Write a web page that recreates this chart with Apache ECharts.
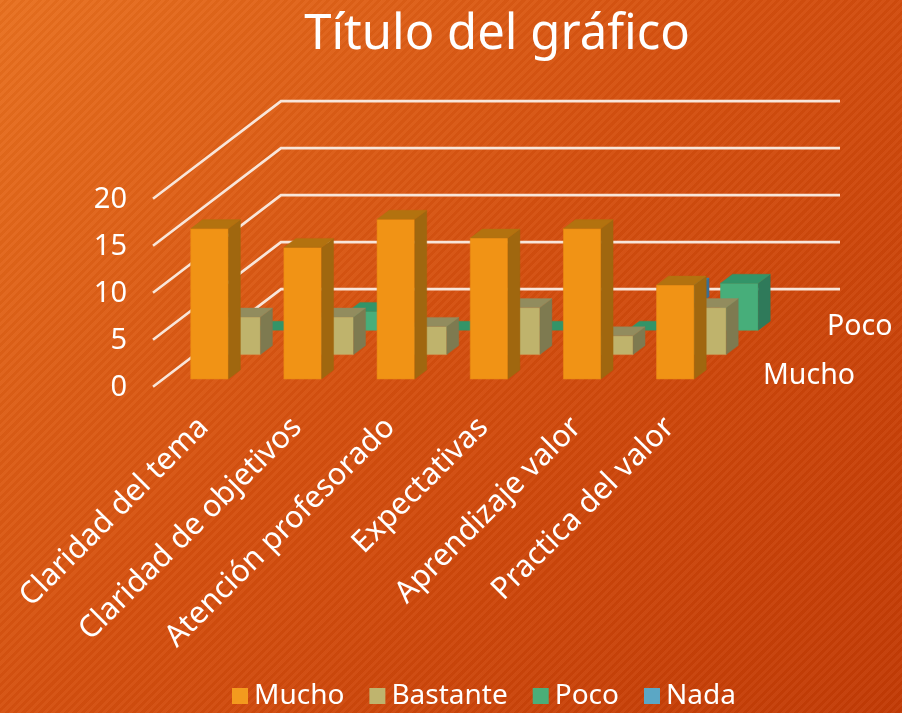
<!DOCTYPE html>
<html>
<head>
<meta charset="utf-8">
<title>Título del gráfico</title>
<script src="https://cdn.jsdelivr.net/npm/echarts@6/dist/echarts.min.js"></script>
<style>
    html, body { margin: 0; padding: 0; width: 902px; height: 713px; overflow: hidden; }
    body {
        background:
            repeating-linear-gradient(135deg, rgba(255,255,255,0.035) 0 3px, rgba(0,0,0,0.025) 3px 6px),
            linear-gradient(135deg, #e8701f 0%, #d5500f 45%, #c23a05 100%);
    }
    #chart { width: 902px; height: 713px; }
</style>
</head>
<body>
<div id="chart"></div>
<script>
var categories = ['Claridad del tema', 'Claridad de objetivos', 'Atención profesorado', 'Expectativas', 'Aprendizaje valor', 'Practica del valor'];
var mucho = [16, 14, 17, 15, 16, 10];
var bastante = [4, 4, 3, 5, 2, 5];
var poco = [0, 2, 0, 0, 0, 5];
var nada = [null, null, null, null, 2, null];
var valueTicks = [0, 5, 10, 15, 20];
var depthLabels = [{ name: 'Mucho', slot: 0 }, { name: 'Poco', slot: 2 }];

var FONT = '"Noto Sans", sans-serif';
// oblique projection of the depth axis, per series slot
var SLOT_DX = 32, SLOT_DY = 24.4;
var BAR_DX = 12, BAR_DY = 9;
var BAR_RATIO = 0.4045;

function pts(list) {
    return { points: list };
}

function barSeries(name, values, slot, colors) {
    return {
        name: name,
        type: 'custom',
        coordinateSystem: 'cartesian2d',
        clip: false,
        z: 10 - slot,
        itemStyle: { color: colors.legend },
        encode: { x: 0, y: 1 },
        data: values.map(function (v, i) { return [i, v]; }),
        renderItem: function (params, api) {
            if (api.value(1) == null || isNaN(api.value(1))) {
                return;
            }
            var band = api.size([1, 0])[0];
            var w = band * BAR_RATIO;
            var base = api.coord([api.value(0), 0]);
            var top = api.coord([api.value(0), api.value(1)]);
            var ox = SLOT_DX * slot + (SLOT_DX - BAR_DX) / 2;
            var oy = SLOT_DY * slot + (SLOT_DY - BAR_DY) / 2;
            var x0 = base[0] - w / 2 + ox;
            var x1 = x0 + w;
            var y0 = base[1] - oy;
            var y1 = top[1] - oy;
            var children = [];
            if (y0 - y1 > 0.5) {
                children.push({ type: 'polygon', shape: pts([[x0, y1], [x1, y1], [x1, y0], [x0, y0]]), style: { fill: colors.front, stroke: colors.edge, lineWidth: 0.6 } });
                children.push({ type: 'polygon', shape: pts([[x1, y1], [x1 + BAR_DX, y1 - BAR_DY], [x1 + BAR_DX, y0 - BAR_DY], [x1, y0]]), style: { fill: colors.side, stroke: colors.side, lineWidth: 0.4 } });
            }
            children.push({ type: 'polygon', shape: pts([[x0, y1], [x1, y1], [x1 + BAR_DX, y1 - BAR_DY], [x0 + BAR_DX, y1 - BAR_DY]]), style: { fill: colors.top, stroke: colors.top, lineWidth: 0.4 } });
            return { type: 'group', children: children };
        }
    };
}

var myChart = echarts.init(document.getElementById('chart'));
var option = {
    backgroundColor: 'transparent',
    animation: false,
    textStyle: { fontFamily: FONT },
    title: {
        text: 'Título del gráfico',
        left: 492,
        top: 6,
        textAlign: 'center',
        textStyle: { color: '#fff', fontSize: 49, fontWeight: 'normal', fontFamily: FONT }
    },
    legend: {
        data: ['Mucho', 'Bastante', 'Poco', 'Nada'],
        left: 227,
        top: 677,
        itemWidth: 16,
        itemHeight: 16,
        itemGap: 25,
        icon: 'rect',
        textStyle: { color: '#fff', fontSize: 28, fontFamily: FONT, padding: [2, 0, 0, 1] }
    },
    grid: { left: 153, top: 198.7, width: 559, height: 188 },
    xAxis: {
        type: 'category',
        data: categories,
        axisLine: { show: false },
        axisTick: { show: false },
        axisLabel: { rotate: 45, color: '#fff', fontSize: 30.5, fontFamily: FONT, margin: 40, interval: 0, padding: [0, -6, 0, 0] }
    },
    yAxis: {
        type: 'value',
        min: 0,
        max: 20,
        interval: 5,
        axisLine: { show: false },
        axisTick: { show: false },
        splitLine: { show: false },
        axisLabel: { color: '#fff', fontSize: 29, fontFamily: FONT, margin: 26, verticalAlign: 'top', padding: [-13, 0, 0, 0] }
    },
    series: [
        {
            name: 'wall',
            type: 'custom',
            clip: false,
            silent: true,
            z: 1,
            encode: { y: 0 },
            data: valueTicks.map(function (v) { return [v]; }),
            renderItem: function (params, api) {
                var p = api.coord([0, api.value(0)]);
                var band = api.size([1, 0])[0];
                var left = p[0] - band / 2;
                var bx = left + SLOT_DX * 4;
                var by = p[1] - SLOT_DY * 4;
                return {
                    type: 'polyline',
                    shape: pts([[left, p[1]], [bx, by], [bx + band * categories.length, by]]),
                    style: { fill: null, stroke: '#f8e6da', lineWidth: 2.6 }
                };
            }
        },
        {
            name: 'depth',
            type: 'custom',
            clip: false,
            silent: true,
            z: 20,
            encode: { y: 1 },
            data: depthLabels.map(function (d) { return [d.slot, 0, d.name]; }),
            renderItem: function (params, api) {
                var p = api.coord([categories.length - 1, 0]);
                var band = api.size([1, 0])[0];
                return {
                    type: 'text',
                    style: {
                        x: p[0] + band / 2 + 51 + SLOT_DX * api.value(0),
                        y: p[1] - 11 - SLOT_DY * api.value(0),
                        text: depthLabels[params.dataIndex].name,
                        fill: '#fff',
                        font: '28.5px ' + FONT,
                        align: 'left',
                        verticalAlign: 'middle'
                    }
                };
            }
        },
        barSeries('Nada', nada, 3, { legend: '#5ba7c5', front: '#5aa6c4', side: '#3a6f92', top: '#3f7f9e', edge: '#5aa6c4' }),
        barSeries('Poco', poco, 2, { legend: '#4bae78', front: '#47ae7a', side: '#2f7a5a', top: '#339468', edge: '#47ae7a' }),
        barSeries('Bastante', bastante, 1, { legend: '#bfb46e', front: '#bfb36c', side: '#7e7a50', top: '#928c5e', edge: '#c9a35c' }),
        barSeries('Mucho', mucho, 0, { legend: '#f39a1e', front: '#f19315', side: '#a0670f', top: '#b3720f', edge: '#e98a14' })
    ]
};
myChart.setOption(option);
</script>
</body>
</html>
